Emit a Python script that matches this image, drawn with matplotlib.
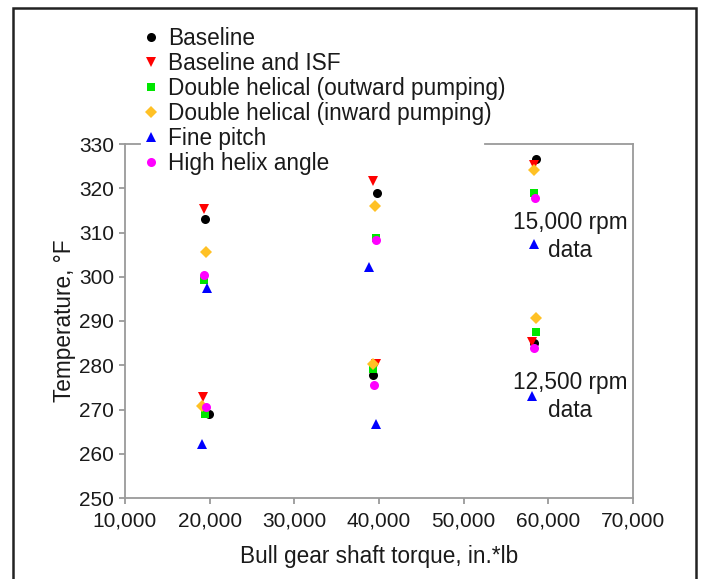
import matplotlib
matplotlib.use("Agg")
import matplotlib.pyplot as plt
from matplotlib.patches import Rectangle
from matplotlib.ticker import FuncFormatter

plt.rcParams['font.family'] = ['Liberation Sans', 'DejaVu Sans']

# points: first three at 15,000 rpm, last three at 12,500 rpm
baseline_x = [19470, 39790, 58570, 19890, 39310, 58310]
baseline_y = [313.1, 319.0, 326.5, 269.0, 277.9, 285.0]
isf_x = [19310, 39310, 58360, 19260, 39630, 58040]
isf_y = [315.4, 321.7, 325.3, 272.8, 280.2, 285.2]
outward_x = [19310, 39630, 58250, 19420, 39310, 58570]
outward_y = [299.2, 308.8, 318.9, 269.0, 279.2, 287.5]
inward_x = [19580, 39520, 58310, 19050, 39310, 58570]
inward_y = [305.7, 316.0, 324.2, 270.8, 280.2, 290.7]
fine_x = [19630, 38840, 58360, 19100, 39630, 58040]
fine_y = [297.5, 302.1, 307.5, 262.2, 266.8, 273.1]
helix_x = [19310, 39680, 58470, 19580, 39370, 58360]
helix_y = [300.4, 308.2, 317.7, 270.6, 275.5, 283.9]

series = [
    ('Baseline', baseline_x, baseline_y, 'o', '#000000', 6.5),
    ('Baseline and ISF', isf_x, isf_y, 'v', '#ff0000', 7),
    ('Double helical (outward pumping)', outward_x, outward_y, 's', '#00e600', 6),
    ('Double helical (inward pumping)', inward_x, inward_y, 'D', '#ffc125', 6.5),
    ('Fine pitch', fine_x, fine_y, '^', '#0000ff', 7),
    ('High helix angle', helix_x, helix_y, 'o', '#ff00ff', 6.5),
]

fig = plt.figure(figsize=(7.01, 5.79), dpi=100)
ax = fig.add_axes([125/701, 1 - 498/579, 508/701, 354/579])

for name, xs, ys, mk, col, ms in series:
    ax.plot(xs, ys, linestyle='none', marker=mk, color=col, markersize=ms,
            markeredgewidth=0, label=name, clip_on=False)

ax.set_xlim(10000, 70000)
ax.set_ylim(250, 330)
ax.set_xticks(range(10000, 70001, 10000))
ax.set_yticks(range(250, 331, 10))
ax.xaxis.set_major_formatter(FuncFormatter(lambda v, p: f'{int(v):,}'))

grey = '#9a9a9a'
for s in ['left', 'bottom', 'right']:
    ax.spines[s].set_color(grey)
    ax.spines[s].set_linewidth(1.3)
ax.spines['top'].set_visible(False)
# top spine is broken where the legend sits
ax.plot([0, 0.03], [1, 1], color=grey, lw=1.3, transform=ax.transAxes, clip_on=False)
ax.plot([0.709, 1], [1, 1], color=grey, lw=1.3, transform=ax.transAxes, clip_on=False)

ax.tick_params(axis='both', colors=grey, length=4, width=1.3, labelsize=15,
               labelcolor='#1a1a1a', pad=4)
ax.tick_params(axis='x', pad=6)

ax.set_xlabel('Bull gear shaft torque, in.*lb', fontsize=16.3, color='#1a1a1a', labelpad=10)
ax.set_ylabel('Temperature, \u00b0F', fontsize=16.3, color='#1a1a1a', labelpad=2)

ax.text(62560, 309.1, '15,000 rpm\ndata', fontsize=16.3, ha='center', va='center',
        linespacing=1.3, color='#1a1a1a')
ax.text(62560, 272.9, '12,500 rpm\ndata', fontsize=16.3, ha='center', va='center',
        linespacing=1.3, color='#1a1a1a')

leg = ax.legend(loc='upper left', bbox_to_anchor=(145/701, 1 - 27/579),
                bbox_transform=fig.transFigure, frameon=False, fontsize=16.3,
                handlelength=0.55, handletextpad=0.46, labelspacing=0.09,
                borderpad=0, borderaxespad=0)
for t in leg.get_texts():
    t.set_color('#1a1a1a')

fig.add_artist(Rectangle((13.5/701, -0.05), (695.5-13.5)/701, 1.05 - 8/579,
                         transform=fig.transFigure, fill=False, lw=1.8,
                         ec='#222222'))

fig.savefig('out.png', dpi=100)
